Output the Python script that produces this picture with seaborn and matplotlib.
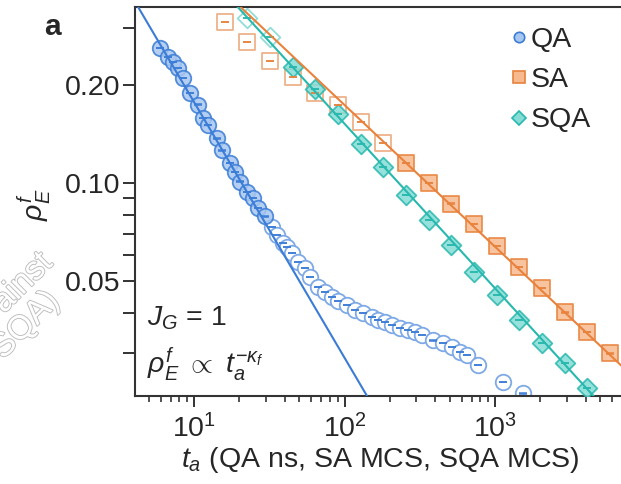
import numpy as np
import pandas as pd
import matplotlib
matplotlib.use("Agg")
import matplotlib.pyplot as plt
import matplotlib.patheffects as pe
from matplotlib.lines import Line2D
from matplotlib.ticker import FixedLocator, NullFormatter, LogLocator
import seaborn as sns

# ---------------- data ----------------
qa_t_filled = [5.94, 6.72, 7.25, 7.83, 8.45, 9.41, 10.6, 11.5, 12.4, 14.2,
               15.3, 17.3, 18.7, 20.2, 22.5, 24.7, 26.6, 29.6]
qa_rho_filled = [0.260, 0.244, 0.235, 0.225, 0.210, 0.189, 0.174, 0.158, 0.151, 0.137,
                 0.126, 0.115, 0.108, 0.101, 0.094, 0.090, 0.084, 0.079]
qa_t_open = [33.0, 35.6, 39.0, 41.5, 44.8, 49.1, 54.7, 59.0, 66.7, 74.2, 82.6, 90.5,
             103.9, 117.4, 132.7, 152.3, 167.0, 185.8, 206.8, 233.8, 264.2, 294.0,
             327.3, 387.3, 451.3, 518.0, 585.5, 651.6, 771.0, 1130, 1535]
qa_rho_open = [0.0732, 0.0692, 0.0654, 0.0636, 0.0610, 0.0572, 0.0548, 0.0514, 0.0479,
               0.0463, 0.0447, 0.0434, 0.0422, 0.0407, 0.0399, 0.0388, 0.0380, 0.0374,
               0.0366, 0.0359, 0.0354, 0.0349, 0.0341, 0.0329, 0.0323, 0.0314, 0.0303,
               0.0296, 0.0276, 0.0245, 0.0226]

sa_t_open = [16, 22.6, 32, 45.3, 64, 90.5, 128, 181]
sa_rho_open = [0.312, 0.271, 0.237, 0.2115, 0.189, 0.1735, 0.154, 0.1327]
sa_t_filled = [256, 362, 512, 724, 1024, 1448, 2048, 2896, 4096, 5793]
sa_rho_filled = [0.1152, 0.100, 0.0865, 0.0748, 0.0640, 0.0552, 0.0476, 0.0401, 0.0349, 0.0300]

sqa_t_open = [22.6, 32]
sqa_rho_open = [0.321, 0.281]
sqa_t_filled = [45.3, 64, 90.5, 128, 181, 256, 362, 512, 724, 1024, 1448, 2048, 2896, 4096]
sqa_rho_filled = [0.227, 0.1944, 0.1629, 0.1318, 0.1120, 0.0919, 0.0770, 0.0645, 0.0533,
                  0.0453, 0.0380, 0.0323, 0.0280, 0.0235]

# power-law fits rho = A * t^-kappa
fit_A = {"QA": 1.081, "SA": 1.287, "SQA": 1.556}
fit_kappa = {"QA": 0.785, "SA": 0.435, "SQA": 0.505}
rel_err = 0.0012

y_major = [0.05, 0.10, 0.20]
y_major_labels = ["0.05", "0.10", "0.20"]
y_minor = [0.03, 0.04, 0.06, 0.07, 0.08, 0.09, 0.3]

# ---------------- style ----------------
sns.set_style("ticks")
plt.rcParams["font.family"] = ["Liberation Sans", "DejaVu Sans"]
plt.rcParams["mathtext.fontset"] = "custom"
plt.rcParams["mathtext.rm"] = "Liberation Sans"
plt.rcParams["mathtext.it"] = "Liberation Sans:italic"
plt.rcParams["mathtext.bf"] = "Liberation Sans:bold"

FS = 20.5
col = {"QA": "#3a7cd6", "SA": "#e8823c", "SQA": "#27b8ae"}
face = {"QA": "#a8c7f0", "SA": "#f6ba8e", "SQA": "#84dcd5"}
open_edge = {"QA": "#7ea9e6", "SA": "#efb28a", "SQA": "#92ddd7"}
marker = {"QA": "o", "SA": "s", "SQA": "D"}
msize = {"QA": 125, "SA": 130, "SQA": 100}

fig = plt.figure(figsize=(6.21, 4.84), dpi=100)
ax = fig.add_axes([135 / 621, 1 - 396 / 484, (621 - 135) / 621, 389 / 484])
ax.set_xscale("log")
ax.set_yscale("log")

def draw(name, t, rho, filled):
    df = pd.DataFrame({"t": t, "rho": rho})
    if filled:
        sns.scatterplot(data=df, x="t", y="rho", ax=ax, marker=marker[name], s=msize[name],
                        color=face[name], edgecolor=col[name], linewidth=1.3, alpha=0.85,
                        zorder=3, legend=False)
    else:
        sns.scatterplot(data=df, x="t", y="rho", ax=ax, marker=marker[name], s=msize[name],
                        facecolor="white", edgecolor=open_edge[name], linewidth=1.3,
                        zorder=2, legend=False)
    r = np.array(rho)
    ax.errorbar(t, rho, yerr=r * rel_err, fmt="none", ecolor=col[name], elinewidth=0.8,
                capsize=2.8, capthick=1.2, alpha=0.9, zorder=4)

for name, t, rho, filled in [
    ("QA", qa_t_open, qa_rho_open, False),
    ("QA", qa_t_filled, qa_rho_filled, True),
    ("SA", sa_t_open, sa_rho_open, False),
    ("SA", sa_t_filled, sa_rho_filled, True),
    ("SQA", sqa_t_open, sqa_rho_open, False),
    ("SQA", sqa_t_filled, sqa_rho_filled, True),
]:
    draw(name, t, rho, filled)

tgrid = np.geomspace(3, 9000, 200)
for name in ["QA", "SA", "SQA"]:
    fdf = pd.DataFrame({"t": tgrid, "rho": fit_A[name] * tgrid ** (-fit_kappa[name])})
    sns.lineplot(data=fdf, x="t", y="rho", ax=ax, color=col[name], linewidth=1.5,
                 zorder=5, legend=False)

ax.set_xlim(4.055, 6870)
ax.set_ylim(0.0222, 0.347)
ax.set_xlabel("")
ax.set_ylabel("")

ax.yaxis.set_major_locator(FixedLocator(y_major))
ax.set_yticklabels(y_major_labels)
ax.yaxis.set_minor_locator(FixedLocator(y_minor))
ax.yaxis.set_minor_formatter(NullFormatter())
ax.xaxis.set_major_locator(LogLocator(base=10, numticks=10))
ax.xaxis.set_minor_locator(LogLocator(base=10, subs=np.arange(2, 10), numticks=20))
ax.xaxis.set_minor_formatter(NullFormatter())

ax.tick_params(axis="y", which="both", direction="out", length=9, width=1.4,
               color="#333333", labelsize=FS, pad=1.5)
ax.tick_params(axis="x", which="major", direction="out", length=8, width=1.4,
               color="#333333", labelsize=FS, pad=5)
ax.tick_params(axis="x", which="minor", direction="out", length=4.5, width=1.2,
               color="#333333")
for s in ["left", "bottom", "top"]:
    ax.spines[s].set_linewidth(1.5)
    ax.spines[s].set_color("#333333")
ax.spines["right"].set_visible(False)

# annotations
ax.text((147 - 135) / 486, (396 - 318) / 389, r"$J_G$ = 1", transform=ax.transAxes,
        fontsize=FS, va="center", ha="left")
ax.text((147 - 135) / 486, (396 - 364) / 389, r"$\rho_E^f\ \propto\ t_a^{-\kappa_f}$",
        transform=ax.transAxes, fontsize=FS, va="center", ha="left")

# legend
handles = [Line2D([], [], ls="none", marker=marker[n], markersize=ms, markerfacecolor=face[n],
                  markeredgecolor=col[n], markeredgewidth=1.2)
           for n, ms in [("QA", 7.5), ("SA", 8), ("SQA", 7.5)]]
ax.legend(handles, ["QA", "SA", "SQA"], loc="upper left",
          bbox_to_anchor=(512 / 621, 1 - 27 / 484), bbox_transform=fig.transFigure,
          frameon=False, fontsize=FS, handlelength=0.5, handletextpad=0.15,
          labelspacing=0.5, borderpad=0, borderaxespad=0)

fig.text(52 / 621, 1 - 27 / 484, "a", fontsize=FS + 1, fontweight="bold",
         ha="center", va="center")
fig.text(34 / 621, 1 - 205 / 484, r"$\rho_E^f$", fontsize=FS, rotation=90,
         ha="center", va="center")
fig.text(380 / 621, 1 - 460 / 484, r"$t_a$ (QA ns, SA MCS, SQA MCS)", fontsize=FS,
         ha="center", va="center")

# faint overlapping caption text visible at the left edge
wm = dict(fontsize=24, rotation=45, color="white", rotation_mode="anchor",
          path_effects=[pe.withStroke(linewidth=1.3, foreground="#bcbcbc")])
fig.text(4 / 621, 1 - 314 / 484, "ainst", ha="left", va="baseline", **wm)
fig.text(3 / 621, 1 - 360 / 484, "SQA)", ha="left", va="baseline", **wm)

fig.savefig("out.png", dpi=100)
